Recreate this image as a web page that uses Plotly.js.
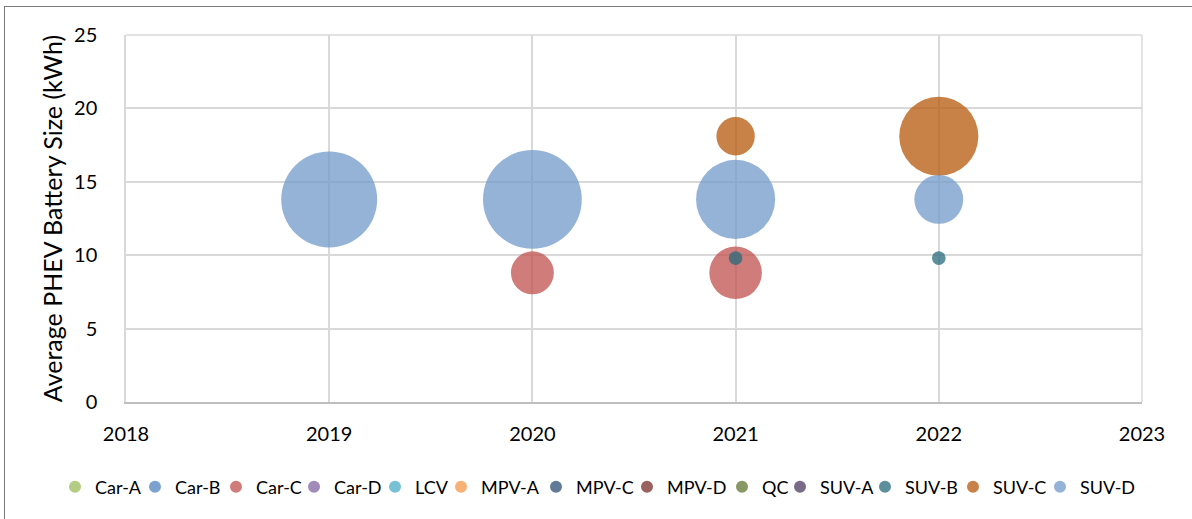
<!DOCTYPE html>
<html>
<head>
<meta charset="utf-8">
<script src="https://cdn.plot.ly/plotly-3.0.1.min.js"></script>
<style>
  html, body { margin: 0; padding: 0; background: #ffffff; }
  #wrap { position: relative; width: 1192px; height: 519px; overflow: hidden; }
  #chart { position: absolute; left: 0; top: 0; width: 1192px; height: 519px; }
  #frame { position: absolute; left: 4px; top: 6px; width: 1200px; height: 530px;
           border-left: 1.5px solid #7a7a7a; border-top: 1.5px solid #7a7a7a; pointer-events: none; }
</style>
</head>
<body>
<div id="wrap">
  <div id="chart"></div>
  <div id="frame"></div>
</div>
<script>
// ---- data ----
const seriesNames = ['Car-A', 'Car-B', 'Car-C', 'Car-D', 'LCV', 'MPV-A', 'MPV-C', 'MPV-D', 'QC', 'SUV-A', 'SUV-B', 'SUV-C', 'SUV-D'];

const carCYear = [2020, 2021];
const carCKwh  = [8.8, 8.8];
const carCSize = [10, 15];

const suvBYear = [2021, 2022];
const suvBKwh  = [9.8, 9.8];
const suvBSize = [1, 1];

const suvCYear = [2021, 2022];
const suvCKwh  = [18.1, 18.1];
const suvCSize = [8, 34];

const suvDYear = [2019, 2020, 2021, 2022];
const suvDKwh  = [13.8, 13.8, 13.8, 13.8];
const suvDSize = [50, 53, 34, 13];

// series with no bubbles in the chart (legend only)
const emptyYear = [null];
const emptyKwh  = [null];
const emptySize = [1];

const xTickVals = [2018, 2019, 2020, 2021, 2022, 2023];
const yTickVals = [0, 5, 10, 15, 20, 25];

// ---- styling ----
const seriesColors = ['#9bbb59', '#4f81bd', '#c0504d', '#8064a2', '#4bacc6', '#f79646',
                      '#2c4d75', '#772c2a', '#5f7530', '#4d3b62', '#276a7c', '#b65708', '#729aca'];
const dataBySeries = {
  'Car-C': [carCYear, carCKwh, carCSize],
  'SUV-B': [suvBYear, suvBKwh, suvBSize],
  'SUV-C': [suvCYear, suvCKwh, suvCSize],
  'SUV-D': [suvDYear, suvDKwh, suvDSize]
};
// legend dot centres (px) in the reference
const legendDotPx = [80, 160, 241, 319, 400, 466, 561, 652, 747, 805, 890, 978, 1065];

const FONT = 'Lato, "Open Sans", sans-serif';
const plotL = 126, plotR = 1142, plotT = 35, plotB = 402;
const plotW = plotR - plotL, plotH = plotB - plotT;

const traces = [];
const layoutLegends = {};
seriesNames.forEach(function (name, i) {
  const d = dataBySeries[name] || [emptyYear, emptyKwh, emptySize];
  const legendId = i === 0 ? 'legend' : 'legend' + (i + 1);
  traces.push({
    type: 'scatter',
    mode: 'markers',
    name: name,
    x: d[0],
    y: d[1],
    legend: legendId,
    showlegend: true,
    marker: {
      color: seriesColors[i],
      opacity: 0.75,
      size: d[2],
      sizemode: 'area',
      sizeref: 1 / 92,
      line: { width: 0 }
    },
    hoverinfo: 'x+y+name'
  });
  layoutLegends[legendId] = {
    orientation: 'h',
    x: (legendDotPx[i] - 25 - plotL) / plotW,
    xanchor: 'left',
    y: (plotB - 487) / plotH,
    yanchor: 'middle',
    bgcolor: 'rgba(0,0,0,0)',
    borderwidth: 0,
    itemsizing: 'constant',
    itemwidth: 30,
    font: { family: FONT, size: 18, color: '#000000' },
    itemclick: false,
    itemdoubleclick: false
  };
});

const layout = Object.assign({
  width: 1192,
  height: 519,
  paper_bgcolor: '#ffffff',
  plot_bgcolor: '#ffffff',
  margin: { l: plotL, r: 1192 - plotR, t: plotT, b: 519 - plotB, pad: 0 },
  showlegend: true,
  font: { family: FONT, size: 20, color: '#000000' },
  xaxis: {
    range: [2018, 2023],
    tickvals: xTickVals,
    ticktext: xTickVals.map(String),
    showgrid: true,
    gridcolor: '#d9d9d9',
    gridwidth: 1.5,
    zeroline: false,
    showline: true,
    linecolor: '#bfbfbf',
    linewidth: 1.5,
    ticks: '',
    ticklabelstandoff: 13,
    tickfont: { family: FONT, size: 20, color: '#000000' },
    fixedrange: true
  },
  yaxis: {
    range: [0, 25],
    tickvals: yTickVals,
    showgrid: true,
    gridcolor: '#d9d9d9',
    gridwidth: 1.5,
    zeroline: false,
    showline: true,
    linecolor: '#d9d9d9',
    linewidth: 1.5,
    ticks: '',
    ticklabelstandoff: 23,
    tickfont: { family: FONT, size: 20, color: '#000000' },
    title: { text: 'Average PHEV Battery Size (kWh)', font: { family: FONT, size: 25, color: '#000000' }, standoff: 4 },
    fixedrange: true
  },
  shapes: [
    { type: 'line', xref: 'paper', yref: 'paper', x0: 0, x1: 1, y0: 1, y1: 1, line: { color: '#d9d9d9', width: 1.5 }, layer: 'below' },
    { type: 'line', xref: 'paper', yref: 'paper', x0: 1, x1: 1, y0: 0, y1: 1, line: { color: '#d9d9d9', width: 1.5 }, layer: 'below' }
  ]
}, layoutLegends);

Plotly.newPlot('chart', traces, layout, { displayModeBar: false, responsive: false });
</script>
</body>
</html>
